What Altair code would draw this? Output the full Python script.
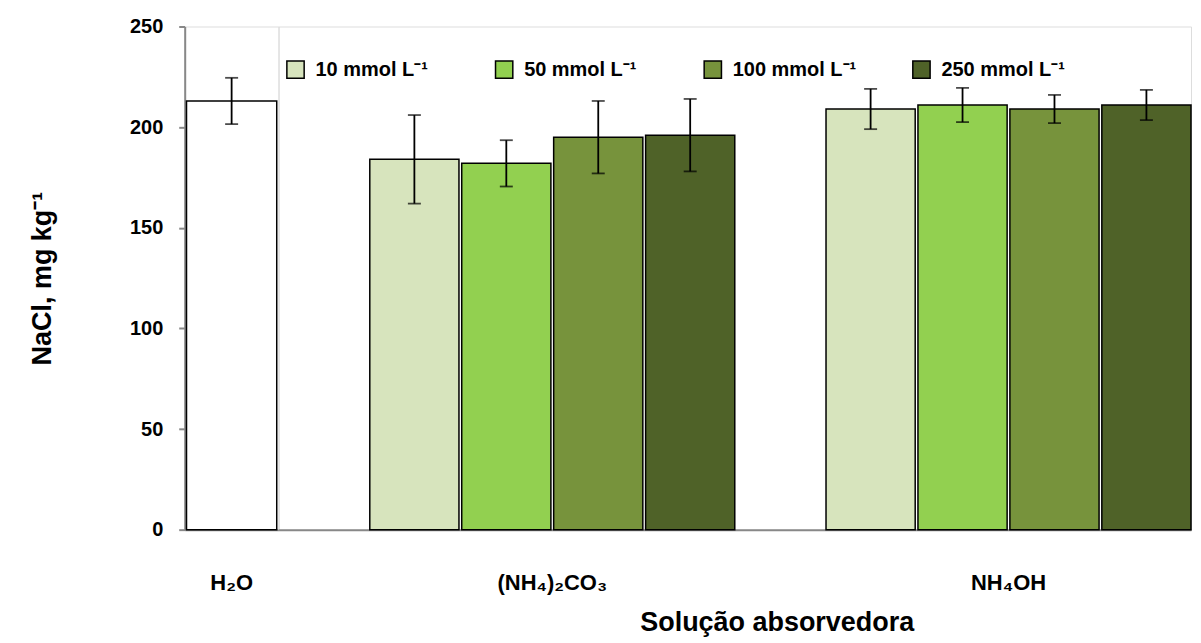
import altair as alt
import pandas as pd

# ---- data ----
water_label = "H₂O"
water_mean = [213]
water_err = [11.5]

categories = ["(NH₄)₂CO₃", "NH₄OH"]
concentrations = ["10 mmol L⁻¹", "50 mmol L⁻¹", "100 mmol L⁻¹", "250 mmol L⁻¹"]
carbonate_means = [184, 182, 195, 196]
carbonate_errs = [22, 11.5, 18, 18]
hydroxide_means = [209, 211, 209, 211]
hydroxide_errs = [10, 8.5, 7, 7.5]
colors = ["#D7E4BD", "#92D050", "#77933C", "#4F6228"]
y_ticks = [0, 50, 100, 150, 200, 250]

FONT = "Liberation Sans"

df_w = pd.DataFrame({"cat": [water_label], "mean": water_mean, "err": water_err})
df_w["lo"] = df_w["mean"] - df_w["err"]
df_w["hi"] = df_w["mean"] + df_w["err"]

rows = []
for cat, means, errs in [(categories[0], carbonate_means, carbonate_errs),
                         (categories[1], hydroxide_means, hydroxide_errs)]:
    for conc, m, e in zip(concentrations, means, errs):
        rows.append({"cat": cat, "conc": conc, "mean": m, "err": e})
df = pd.DataFrame(rows)
df["lo"] = df["mean"] - df["err"]
df["hi"] = df["mean"] + df["err"]

H = 504
yscale = alt.Scale(domain=[0, 250], nice=False)

xaxis_common = dict(labelAngle=0, ticks=False, domainColor="#888888", domainWidth=2,
                    labelFont=FONT, labelFontSize=22, labelFontWeight="bold",
                    labelColor="black", labelPadding=43)

yaxis = alt.Axis(values=y_ticks, grid=False, domainColor="#888888", domainWidth=2,
                 tickColor="#888888", tickWidth=2, tickSize=6,
                 labelFont=FONT, labelFontSize=20, labelFontWeight="bold", labelColor="black",
                 labelPadding=16, title="NaCl, mg kg⁻¹", titleFont=FONT, titleFontSize=27,
                 titleFontWeight="bold", titleColor="black", titlePadding=73)

# left panel: water
lb = alt.Chart(df_w).encode(
    x=alt.X("cat:N", title=None, axis=alt.Axis(**xaxis_common),
            scale=alt.Scale(paddingInner=0, paddingOuter=0.02))
)
l_bar = lb.mark_bar(fill="white", stroke="black", strokeWidth=1.5).encode(
    y=alt.Y("mean:Q", scale=yscale, axis=yaxis))
l_rule = lb.mark_rule(color="black", strokeWidth=1.8).encode(y="lo:Q", y2="hi:Q")
l_lo = lb.mark_tick(orient="horizontal", color="black", size=13, thickness=1.8).encode(y="lo:Q")
l_hi = lb.mark_tick(orient="horizontal", color="black", size=13, thickness=1.8).encode(y="hi:Q")
left = alt.layer(l_bar, l_rule, l_lo, l_hi).properties(width=94, height=H)

# right panel: two absorbing solutions, four concentrations
rb = alt.Chart(df).encode(
    x=alt.X("cat:N", sort=categories, title="Solução absorvedora",
            axis=alt.Axis(**xaxis_common, titleFont=FONT, titleFontSize=27,
                          titleFontWeight="bold", titleColor="black", titlePadding=16,
                          titleX=499, titleAlign="center"),
            scale=alt.Scale(paddingInner=0.2, paddingOuter=0.1, align=1)),
    xOffset=alt.XOffset("conc:N", sort=concentrations, scale=alt.Scale(paddingInner=0.03)),
)
r_bar = rb.mark_bar(stroke="black", strokeWidth=1.5).encode(
    y=alt.Y("mean:Q", scale=yscale, axis=None),
    color=alt.Color("conc:N", sort=concentrations,
                    scale=alt.Scale(domain=concentrations, range=colors),
                    legend=alt.Legend(orient="none", direction="horizontal", title=None,
                                      legendX=101, legendY=33, symbolType="square",
                                      symbolSize=300, symbolStrokeColor="black",
                                      symbolStrokeWidth=1.5, symbolOpacity=1,
                                      labelFont=FONT, labelFontSize=20,
                                      labelFontWeight="bold", labelColor="black",
                                      labelLimit=300,
                                      columnPadding=53, gridAlign="all", labelOffset=10)),
)
r_rule = rb.mark_rule(color="black", strokeWidth=1.8).encode(
    y=alt.Y("lo:Q", scale=yscale), y2="hi:Q")
r_lo = rb.mark_tick(orient="horizontal", color="black", size=13, thickness=1.8).encode(
    y=alt.Y("lo:Q", scale=yscale))
r_hi = rb.mark_tick(orient="horizontal", color="black", size=13, thickness=1.8).encode(
    y=alt.Y("hi:Q", scale=yscale))
right = alt.layer(r_bar, r_rule, r_lo, r_hi).properties(width=914, height=H)

chart = alt.hconcat(left, right, spacing=0, bounds="flush").properties(
    padding={"left": 20, "top": 7, "right": 0, "bottom": 0}
).configure_view(strokeWidth=0).configure(background="white")

chart.save("out.html", embed_options={"renderer": "svg", "actions": False})
